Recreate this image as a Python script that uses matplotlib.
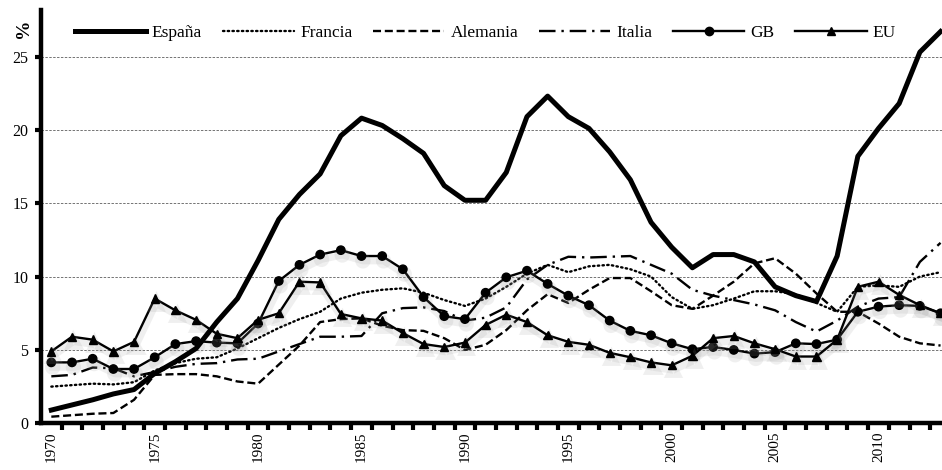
import matplotlib
matplotlib.use("Agg")
import matplotlib.pyplot as plt
import matplotlib.patheffects as pe
from matplotlib.ticker import FixedLocator

plt.rcParams['font.family'] = ['Liberation Serif', 'DejaVu Serif']

years = list(range(1970, 2014))

espana = [0.9, 1.25, 1.6, 2.0, 2.3, 3.4, 4.2, 5.1, 6.9, 8.5,
          11.1, 13.9, 15.6, 17.0, 19.6, 20.8, 20.3, 19.4, 18.4, 16.2,
          15.2, 15.2, 17.1, 20.9, 22.3, 20.9, 20.1, 18.5, 16.6, 13.7,
          12.0, 10.6, 11.5, 11.5, 11.0, 9.3, 8.7, 8.3, 11.4, 18.2,
          20.1, 21.8, 25.3, 26.7]
francia = [2.5, 2.6, 2.7, 2.65, 2.8, 3.6, 4.1, 4.4, 4.5, 5.1,
           5.8, 6.5, 7.1, 7.6, 8.5, 8.9, 9.1, 9.2, 8.9, 8.4,
           8.0, 8.5, 9.3, 10.2, 10.8, 10.3, 10.7, 10.8, 10.5, 10.0,
           8.6, 7.8, 8.05, 8.5, 9.0, 9.0, 8.8, 8.2, 7.6, 9.3,
           9.4, 9.3, 10.0, 10.3]
alemania = [0.45, 0.55, 0.65, 0.7, 1.6, 3.3, 3.35, 3.35, 3.2, 2.85,
            2.7, 4.0, 5.3, 6.9, 7.1, 7.15, 6.65, 6.35, 6.3, 5.8,
            5.0, 5.35, 6.35, 7.7, 8.8, 8.2, 9.1, 9.9, 9.9, 9.0,
            8.05, 7.8, 8.7, 9.65, 10.9, 11.25, 10.2, 8.85, 7.6, 7.6,
            6.8, 5.9, 5.45, 5.3]
italia = [3.2, 3.3, 3.8, 3.75, 3.2, 3.5, 3.85, 4.05, 4.1, 4.35,
          4.4, 4.9, 5.4, 5.9, 5.9, 5.95, 7.5, 7.85, 7.9, 7.65,
          7.0, 7.2, 7.9, 9.8, 10.8, 11.35, 11.3, 11.35, 11.4, 10.8,
          10.2, 9.1, 8.7, 8.4, 8.1, 7.7, 6.9, 6.25, 7.0, 7.95,
          8.5, 8.6, 11.0, 12.3]
gb = [4.15, 4.15, 4.4, 3.7, 3.7, 4.5, 5.4, 5.6, 5.5, 5.45,
      6.8, 9.7, 10.8, 11.5, 11.8, 11.4, 11.4, 10.5, 8.6, 7.3,
      7.1, 8.9, 9.95, 10.4, 9.5, 8.7, 8.05, 7.0, 6.3, 6.0,
      5.45, 5.05, 5.2, 5.0, 4.75, 4.85, 5.45, 5.4, 5.7, 7.6,
      7.95, 8.05, 8.0, 7.5]
eu = [4.9, 5.9, 5.7, 4.9, 5.55, 8.5, 7.7, 7.05, 6.1, 5.8,
      7.05, 7.5, 9.65, 9.6, 7.45, 7.15, 7.0, 6.15, 5.4, 5.2,
      5.5, 6.7, 7.4, 6.9, 6.0, 5.55, 5.35, 4.8, 4.5, 4.15,
      3.95, 4.6, 5.8, 5.95, 5.45, 5.05, 4.55, 4.55, 5.7, 9.3,
      9.65, 8.75, 8.05, 7.5]

series_names = ["España", "Francia", "Alemania", "Italia", "GB", "EU"]
label_years = [1970, 1975, 1980, 1985, 1990, 1995, 2000, 2005, 2010]
y_ticks = [0, 5, 10, 15, 20, 25]

fig = plt.figure(figsize=(9.42, 4.70), dpi=100)
ax = fig.add_axes([0.0435, 0.0994, 0.9565, 0.8793])

shadow = [pe.SimpleLineShadow(offset=(1, -3.5), shadow_color='0.6', alpha=0.15, linewidth=5), pe.Normal()]

ax.plot(years, espana, color='black', lw=3.6, solid_joinstyle='round', label=series_names[0], zorder=6)
ax.plot(years, francia, color='black', lw=1.7, linestyle=(0, (0.6, 1.4)), dash_capstyle='round', label=series_names[1], zorder=4)
ax.plot(years, alemania, color='black', lw=1.7, linestyle=(0, (3.4, 1.6)), label=series_names[2], zorder=4)
ax.plot(years, italia, color='black', lw=1.7, linestyle=(0, (7.0, 2.5, 1.0, 2.5)), label=series_names[3], zorder=4)
ax.plot(years, gb, color='black', lw=1.7, marker='o', markersize=6, label=series_names[4], zorder=5,
        path_effects=shadow)
ax.plot(years, eu, color='black', lw=1.7, marker='^', markersize=6, label=series_names[5], zorder=5,
        path_effects=shadow)

ax.set_xlim(1969.5, 2013.07)
ax.set_ylim(0, 28.17)

ax.set_yticks(y_ticks)
ax.set_yticklabels([str(v) for v in y_ticks], fontsize=11.5)
ax.tick_params(axis='y', direction='out', length=4, width=3, pad=5, colors='black')

ax.xaxis.set_major_locator(FixedLocator(label_years))
ax.set_xticklabels([str(y) for y in label_years], rotation=90, fontsize=11)
ax.xaxis.set_minor_locator(FixedLocator([y + 0.5 for y in years[:-1]]))
ax.tick_params(axis='x', which='major', length=0, pad=6)
ax.tick_params(axis='x', which='minor', direction='out', length=5, width=3)

for s in ['top', 'right']:
    ax.spines[s].set_visible(False)
ax.spines['left'].set_linewidth(3.2)
ax.spines['bottom'].set_linewidth(3.2)

for v in y_ticks[1:]:
    ax.axhline(v, color='0.45', lw=0.7, linestyle=(0, (2.5, 1.5)), zorder=1)

leg = ax.legend(loc='center', bbox_to_anchor=(0.493, 0.944), ncol=6, frameon=False,
                fontsize=12.5, handlelength=4.1, handletextpad=0.35, columnspacing=1.2)
for h in leg.legend_handles:
    h.set_path_effects([])

fig.text(0.025, 0.94, '%', rotation=90, fontsize=14, fontweight='bold', ha='center', va='center')

fig.savefig('out.png', dpi=100)
